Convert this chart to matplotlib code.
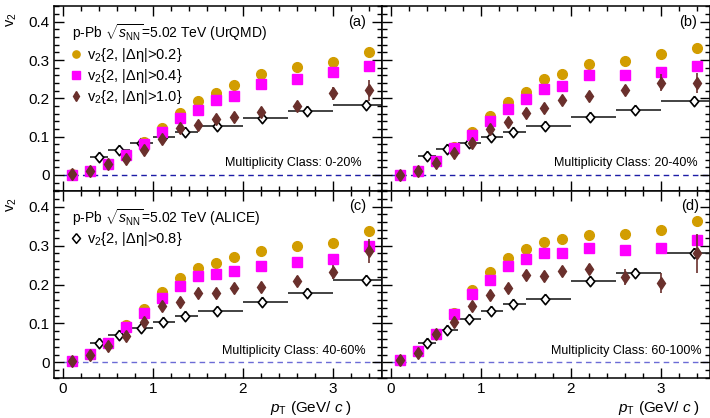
import matplotlib
matplotlib.use("Agg")
import matplotlib.pyplot as plt
from matplotlib.lines import Line2D
import numpy as np

plt.rcParams['font.family'] = ['Liberation Sans', 'DejaVu Sans']
plt.rcParams['mathtext.fontset'] = 'custom'
plt.rcParams['mathtext.rm'] = 'Liberation Sans'
plt.rcParams['mathtext.it'] = 'Liberation Sans:italic'
plt.rcParams['mathtext.bf'] = 'Liberation Sans:bold'

# ---------------- data ----------------
pt = [0.1, 0.3, 0.5, 0.7, 0.9, 1.1, 1.3, 1.5, 1.7, 1.9, 2.2, 2.6, 3.0, 3.4]

# UrQMD v2{2,|deta|>0.2}
eta02_a = [0.003, 0.010, 0.030, 0.052, 0.087, 0.124, 0.163, 0.192, 0.214, 0.236, 0.264, 0.283, 0.296, 0.321]
eta02_b = [0.000, 0.011, 0.037, 0.074, 0.113, 0.153, 0.190, 0.217, 0.250, 0.265, 0.291, 0.298, 0.316, 0.331]
eta02_c = [0.003, 0.021, 0.051, 0.095, 0.138, 0.180, 0.218, 0.243, 0.256, 0.270, 0.287, 0.300, 0.307, 0.338]
eta02_d = [0.007, 0.029, 0.074, 0.128, 0.186, 0.232, 0.268, 0.291, 0.308, 0.316, 0.327, 0.331, 0.340, 0.363]

# UrQMD v2{2,|deta|>0.4}
eta04_a = [0.000, 0.010, 0.030, 0.052, 0.081, 0.112, 0.149, 0.171, 0.195, 0.207, 0.237, 0.250, 0.268, 0.285]
eta04_b = [0.000, 0.011, 0.037, 0.070, 0.105, 0.142, 0.173, 0.198, 0.224, 0.233, 0.261, 0.262, 0.270, 0.285]
eta04_c = [0.003, 0.021, 0.051, 0.090, 0.128, 0.165, 0.196, 0.222, 0.226, 0.235, 0.248, 0.259, 0.266, 0.299]
eta04_d = [0.007, 0.029, 0.074, 0.124, 0.175, 0.211, 0.248, 0.266, 0.280, 0.281, 0.293, 0.288, 0.293, 0.315]

# UrQMD v2{2,|deta|>1.0} with errors
eta10_a = [0.003, 0.010, 0.028, 0.042, 0.065, 0.094, 0.124, 0.131, 0.146, 0.151, 0.164, 0.180, 0.213, 0.221]
eta10_b = [0.000, 0.011, 0.032, 0.057, 0.083, 0.120, 0.138, 0.163, 0.176, 0.196, 0.207, 0.222, 0.241, 0.240]
eta10_c = [0.003, 0.020, 0.043, 0.067, 0.104, 0.144, 0.156, 0.178, 0.178, 0.190, 0.193, 0.210, 0.232, 0.286]
eta10_d = [0.007, 0.024, 0.072, 0.105, 0.144, 0.174, 0.192, 0.224, 0.222, 0.235, 0.239, 0.219, 0.203, 0.280]
err10_a = [0.003, 0.004, 0.005, 0.006, 0.006, 0.007, 0.007, 0.007, 0.008, 0.008, 0.009, 0.011, 0.018, 0.028]
err10_b = [0.003, 0.004, 0.005, 0.006, 0.007, 0.007, 0.008, 0.008, 0.009, 0.009, 0.010, 0.013, 0.022, 0.027]
err10_c = [0.003, 0.004, 0.005, 0.006, 0.007, 0.008, 0.008, 0.009, 0.010, 0.010, 0.011, 0.013, 0.018, 0.030]
err10_d = [0.004, 0.005, 0.006, 0.007, 0.008, 0.009, 0.010, 0.010, 0.011, 0.012, 0.013, 0.020, 0.026, 0.050]

# ALICE v2{2,|deta|>0.8}
alice_pt = [0.40, 0.62, 0.87, 1.11, 1.36, 1.71, 2.21, 2.71, 3.37]
alice_lo = [0.30, 0.50, 0.75, 1.00, 1.25, 1.50, 2.00, 2.50, 3.00]
alice_hi = [0.50, 0.75, 1.00, 1.25, 1.50, 2.00, 2.50, 3.00, 4.00]
alice_a = [0.048, 0.065, 0.083, 0.098, 0.112, 0.128, 0.149, 0.167, 0.183]
alice_b = [0.050, 0.068, 0.083, 0.100, 0.112, 0.128, 0.151, 0.170, 0.194]
alice_c = [0.051, 0.071, 0.088, 0.103, 0.118, 0.132, 0.156, 0.178, 0.212]
alice_d = [0.051, 0.084, 0.112, 0.132, 0.151, 0.163, 0.209, 0.229, 0.282]

panel_tags = ['(a)', '(b)', '(c)', '(d)']
mult_classes = ['0-20%', '20-40%', '40-60%', '60-100%']
urqmd_labels = ['v$_2${2, |Δη|>0.2}', 'v$_2${2, |Δη|>0.4}', 'v$_2${2, |Δη|>1.0}']
alice_label = 'v$_2${2, |Δη|>0.8}'

GOLD = '#D29D00'
MAG = '#FF00FF'
BROWN = '#6A302C'
OPEN_D = [(0, 1), (0.82, 0), (0, -1), (-0.82, 0), (0, 1)]

W, H = 710, 418
fig = plt.figure(figsize=(W / 100, H / 100), dpi=100)

def px_axes(x0, y0, x1, y1):
    return fig.add_axes([x0 / W, 1 - y1 / H, (x1 - x0) / W, (y1 - y0) / H])

ax_a = px_axes(54, 6, 382, 190.5)
ax_b = px_axes(382, 6, 710, 190.5)
ax_c = px_axes(54, 190.5, 382, 378)
ax_d = px_axes(382, 190.5, 710, 378)
axes = [ax_a, ax_b, ax_c, ax_d]

e02 = [eta02_a, eta02_b, eta02_c, eta02_d]
e04 = [eta04_a, eta04_b, eta04_c, eta04_d]
e10 = [eta10_a, eta10_b, eta10_c, eta10_d]
er10 = [err10_a, err10_b, err10_c, err10_d]
al = [alice_a, alice_b, alice_c, alice_d]

xerr = [np.array(alice_pt) - np.array(alice_lo), np.array(alice_hi) - np.array(alice_pt)]

tag_pos = [(0.951, 0.913), (0.960, 0.913), (0.951, 0.918), (0.966, 0.918)]
mult_pos = [(0.939, 0.149), (0.963, 0.149), (0.951, 0.144), (0.973, 0.144)]
zero_colors = ['#1c1ca6', '#1c1ca6', '#6b6bd6', '#6b6bd6']
ylims = [(-0.0405, 0.4413), (-0.0405, 0.4413), (-0.039, 0.4415), (-0.039, 0.4415)]

for i, ax in enumerate(axes):
    ax.set_xlim(-0.1, 3.55)
    ax.set_ylim(*ylims[i])
    ax.hlines(0, 0, 3.55, colors=zero_colors[i], linestyles=(0, (4, 3)), lw=1.0, zorder=1)
    ax.errorbar(alice_pt, al[i], xerr=xerr, fmt='none', ecolor='#222222', elinewidth=1.2,
                capsize=0, zorder=3)
    ax.plot(alice_pt, al[i], ls='none', marker=OPEN_D, ms=7.5, mfc='white', mec='black',
            mew=1.2, zorder=3.5)
    ax.plot(pt, e02[i], 'o', ms=7, color=GOLD, mec=GOLD, zorder=4)
    ax.plot(pt, e04[i], 's', ms=6.8, color=MAG, mec=MAG, zorder=5)
    ax.errorbar(pt, e10[i], yerr=er10[i], fmt='d', ms=6.4, color=BROWN, mec=BROWN,
                ecolor=BROWN, elinewidth=1.2, capsize=0, zorder=6)

    ax.set_xticks([0, 1, 2, 3])
    ax.set_xticks(np.arange(-0.0, 3.6, 0.2), minor=True)
    ax.set_yticks([0, 0.1, 0.2, 0.3, 0.4])
    ax.set_yticks(np.arange(-0.04, 0.441, 0.02), minor=True)
    ax.yaxis.set_major_formatter(matplotlib.ticker.FuncFormatter(lambda v, p: '0' if abs(v) < 1e-9 else f'{v:.1f}'))
    ax.tick_params(which='both', direction='in', top=True, right=True, width=1.0, labelsize=11, pad=3)
    ax.tick_params(which='major', length=7)
    ax.tick_params(which='minor', length=3.6)
    for s in ax.spines.values():
        s.set_linewidth(1.1)
    if i in (0, 1):
        ax.tick_params(labelbottom=False)
    if i in (1, 3):
        ax.tick_params(labelleft=False)

    ax.text(tag_pos[i][0], tag_pos[i][1], panel_tags[i], transform=ax.transAxes,
            ha='right', va='center', fontsize=10.5)
    ax.text(mult_pos[i][0], mult_pos[i][1], 'Multiplicity Class: ' + mult_classes[i],
            transform=ax.transAxes, ha='right', va='center', fontsize=9)

# headers and legends
ax_a.text(0.055, 0.855, r'p-Pb $\sqrt{s_{\rm NN}}$=5.02 TeV (UrQMD)', transform=ax_a.transAxes,
          ha='left', va='center', fontsize=10)
h1 = Line2D([], [], ls='none', marker='o', ms=5.2, color=GOLD)
h2 = Line2D([], [], ls='none', marker='s', ms=5.2, color=MAG)
h3 = Line2D([], [], ls='none', marker='d', ms=4.8, color=BROWN)
ax_a.legend([h1, h2, h3], urqmd_labels,
            loc='upper left', bbox_to_anchor=(0.049, 0.785), frameon=False, fontsize=10.5,
            handlelength=0.8, handletextpad=0.35, labelspacing=0.22, borderaxespad=0.0, borderpad=0.0)

ax_c.text(0.055, 0.855, r'p-Pb $\sqrt{s_{\rm NN}}$=5.02 TeV (ALICE)', transform=ax_c.transAxes,
          ha='left', va='center', fontsize=10)
h4 = Line2D([], [], ls='none', marker=OPEN_D, ms=7, mfc='white', mec='black', mew=1.1)
ax_c.legend([h4], [alice_label], loc='upper left', bbox_to_anchor=(0.049, 0.79),
            frameon=False, fontsize=10.5, handlelength=0.8, handletextpad=0.35,
            borderaxespad=0.0, borderpad=0.0)

# axis titles
fig.text(12 / W, 1 - 20 / H, r'v$_2$', rotation=90, ha='center', va='center', fontsize=10.5)
fig.text(12 / W, 1 - 205 / H, r'v$_2$', rotation=90, ha='center', va='center', fontsize=10.5)
fig.text(352 / W, 1 - 408 / H, r'$p_{\rm T}$ (GeV/ $c$ )', ha='right', va='center', fontsize=11)
fig.text(700 / W, 1 - 408 / H, r'$p_{\rm T}$ (GeV/ $c$ )', ha='right', va='center', fontsize=11)

fig.savefig('out.png', dpi=100)
